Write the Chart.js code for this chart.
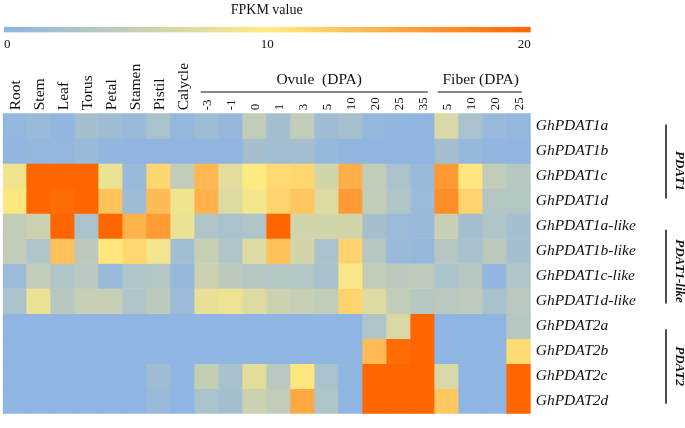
<!DOCTYPE html>
<html>
<head>
<meta charset="utf-8">
<script src="https://cdn.jsdelivr.net/npm/chart.js@4.4.0/dist/chart.umd.min.js"></script>
<style>
  html, body { margin: 0; padding: 0; background: #fff; }
  #wrap { position: relative; width: 685px; height: 428px; }
  #heat, #scaleBar { position: absolute; left: 0; top: 0; }
</style>
</head>
<body>
<div id="wrap">
  <canvas id="heat" width="685" height="428"></canvas>
  <canvas id="scaleBar" width="685" height="56"></canvas>
</div>
<script>
// column labels
const tissues = ["Root", "Stem", "Leaf", "Torus", "Petal", "Stamen", "Pistil", "Calycle"];
const ovuleDPA = ["-3", "-1", "0", "1", "3", "5", "10", "20", "25", "35"];
const fiberDPA = ["5", "10", "20", "25"];
const genes = ["GhPDAT1a", "GhPDAT1b", "GhPDAT1c", "GhPDAT1d",
  "GhPDAT1a-like", "GhPDAT1b-like", "GhPDAT1c-like", "GhPDAT1d-like",
  "GhPDAT2a", "GhPDAT2b", "GhPDAT2c", "GhPDAT2d"];
const groups = ["PDAT1", "PDAT1-like", "PDAT2"];
const scaleTicks = [0, 10, 20];

// FPKM values, one array per gene (tissues, ovule, fiber)
const pdat1a = [0.5, 1, 0.3, 2, 1.5, 1, 2.5, 0.5, 1.5, 0.8, 4.5, 2, 4.5, 1.5, 2.2, 0.5, 0.3, 0.2, 6.5, 2.5, 1, 0.5];
const pdat1b = [0.3, 0.5, 0.6, 1, 0.3, 0.2, 0.2, 0.2, 0.2, 0.2, 2, 1.8, 2, 0.7, 0.3, 0.2, 0.2, 0.2, 2, 0.7, 0.3, 0.2];
const pdat1c = [8.8, 20, 20, 20, 8.3, 1, 11.5, 4.5, 13.8, 7.5, 10, 11.3, 11.5, 6, 14.5, 4.5, 2.5, 1, 16.2, 10.3, 4.5, 3.5];
const pdat1d = [10.3, 20, 19.5, 20, 13, 1.5, 13.5, 8.8, 14.3, 7, 9, 11.7, 12.7, 7, 16, 4.5, 3, 1.2, 17, 11.7, 3.3, 3.3];
const pdat1aLike = [4.5, 5.5, 20, 2.5, 20, 14.3, 16, 8.3, 3, 2.5, 3, 20, 6, 6, 6, 2, 1.2, 1, 5, 2, 3, 2];
const pdat1bLike = [4.5, 3, 13.2, 4, 10.4, 11.5, 9, 1.8, 5, 3, 7, 13.2, 6, 2.5, 11.7, 3.5, 1, 0.8, 3.5, 2.3, 4, 2];
const pdat1cLike = [1.2, 4.5, 3, 3.8, 1, 3, 3.3, 0.8, 5.5, 4, 3.5, 3.3, 3.3, 2.3, 9.5, 4.5, 4, 4.2, 2.5, 3.5, 0.3, 3];
const pdat1dLike = [2.5, 8.3, 3.7, 5, 5, 3, 4, 1.2, 8, 8.5, 7, 5.5, 5, 4.5, 11.7, 7, 4.5, 3.5, 3.8, 4.2, 2.3, 3.8];
const pdat2a = [0.1, 0.1, 0.1, 0.1, 0.1, 0.1, 0.1, 0.1, 0.1, 0.1, 0.1, 0.1, 0.1, 0.1, 0.1, 3, 6.5, 20, 0.1, 0.1, 0.1, 3.5];
const pdat2b = [0.1, 0.1, 0.1, 0.1, 0.1, 0.1, 0.1, 0.1, 0.1, 0.1, 0.1, 0.1, 0.1, 0.1, 0.1, 13.5, 19.5, 20, 0.1, 0.1, 0.1, 11.3];
const pdat2c = [0.1, 0.1, 0.1, 0.1, 0.1, 0.1, 1.5, 0.1, 4.8, 2.3, 7.5, 3.8, 10.4, 2.5, 0.3, 20, 20, 20, 6.5, 0.1, 0.1, 20];
const pdat2d = [0.1, 0.1, 0.1, 0.1, 0.1, 0.1, 1, 0.1, 2.5, 2, 5.5, 4.5, 15, 3, 0.1, 20, 20, 20, 12.7, 0.1, 0.1, 20];

const rows = [pdat1a, pdat1b, pdat1c, pdat1d, pdat1aLike, pdat1bLike, pdat1cLike, pdat1dLike, pdat2a, pdat2b, pdat2c, pdat2d];
const columns = tissues.concat(ovuleDPA, fiberDPA);

const SERIF = "'Liberation Serif', 'Times New Roman', serif";

// 3 colour scale: blue - yellow - orange
const lowC = [142, 180, 227], midC = [255, 235, 132], highC = [255, 102, 0];
function colorFor(v) {
  v = Math.max(0, Math.min(20, v));
  let a = lowC, b = midC, t = v / 10;
  if (v > 10) { a = midC; b = highC; t = (v - 10) / 10; }
  return "rgb(" + a.map((c, i) => Math.round(c + (b[i] - c) * t)).join(",") + ")";
}

const extras = {
  id: "extras",
  afterDraw(chart) {
    const ctx = chart.ctx, x = chart.scales.x, y = chart.scales.y;
    const cw = x.getPixelForValue(1) - x.getPixelForValue(0);
    ctx.save();
    ctx.fillStyle = "#111";
    ctx.strokeStyle = "#111";

    // rotated column labels, reading upwards
    columns.forEach((lab, i) => {
      ctx.save();
      ctx.translate(x.getPixelForValue(i) + 1, chart.chartArea.top - 3);
      ctx.rotate(-Math.PI / 2);
      ctx.textAlign = "left";
      ctx.textBaseline = "middle";
      ctx.font = (i < tissues.length ? "15.5px " : "13px ") + SERIF;
      ctx.fillText(lab, 0, 0);
      ctx.restore();
    });

    ctx.lineWidth = 1.2;
    ctx.textAlign = "center";
    ctx.textBaseline = "middle";

    // column group headers
    ctx.font = "15.5px " + SERIF;
    let l = x.getPixelForValue(8) - cw / 2 + 6, r = x.getPixelForValue(17) + cw / 2 - 7;
    ctx.beginPath(); ctx.moveTo(l, 92); ctx.lineTo(r, 92); ctx.stroke();
    ctx.fillText("Ovule  (DPA)", (l + r) / 2 + 5, 80);
    l = x.getPixelForValue(18) - cw / 2 + 3; r = x.getPixelForValue(21) + cw / 2 - 9;
    ctx.beginPath(); ctx.moveTo(l, 92); ctx.lineTo(r, 92); ctx.stroke();
    ctx.fillText("Fiber (DPA)", (l + r) / 2 + 1, 80);

    // row group brackets on the right
    const spans = [[0.45, 3.4, 2.3], [4.65, 7.6, 6.3], [8.63, 11.6, 10.1]];
    ctx.font = "bold italic 13px " + SERIF;
    ctx.lineWidth = 1.5;
    spans.forEach((s, i) => {
      ctx.beginPath();
      ctx.moveTo(666, y.getPixelForValue(s[0]));
      ctx.lineTo(666, y.getPixelForValue(s[1]));
      ctx.stroke();
      ctx.save();
      ctx.translate(679, y.getPixelForValue(s[2]));
      ctx.rotate(Math.PI / 2);
      ctx.fillText(groups[i], 0, 0);
      ctx.restore();
    });
    ctx.restore();
  }
};

new Chart(document.getElementById("heat"), {
  type: "bar",
  data: {
    labels: columns,
    datasets: rows.map((vals, r) => ({
      label: genes[r],
      data: vals.map(() => [r, r + 1]),
      backgroundColor: vals.map(colorFor),
      borderWidth: 0,
      barPercentage: 1,
      categoryPercentage: 1,
      grouped: false
    }))
  },
  options: {
    responsive: false,
    animation: false,
    layout: { padding: { left: 2.7, right: 0, top: 0, bottom: 6.7 } },
    plugins: { legend: { display: false }, tooltip: { enabled: false } },
    scales: {
      x: {
        type: "category",
        position: "top",
        grid: { display: false, drawTicks: false },
        border: { display: false },
        ticks: { display: false },
        afterFit: s => { s.height = 113.3; }
      },
      y: {
        type: "linear",
        position: "right",
        reverse: true,
        min: 0,
        max: 12,
        grid: { display: false, drawTicks: false },
        border: { display: false },
        afterBuildTicks: s => { s.ticks = genes.map((g, i) => ({ value: i + 0.5 })); },
        ticks: {
          padding: 5,
          color: "#111",
          font: { family: SERIF, size: 15.5, style: "italic" },
          callback: v => genes[Math.floor(v)]
        },
        afterFit: s => { s.width = 154.3; }
      }
    }
  },
  plugins: [extras]
});

// colour key on top
new Chart(document.getElementById("scaleBar"), {
  type: "bar",
  data: {
    labels: ["FPKM"],
    datasets: [{
      data: [[scaleTicks[0], scaleTicks[scaleTicks.length - 1]]],
      backgroundColor: c => {
        const a = c.chart.chartArea;
        if (!a) return "#ccc";
        const g = c.chart.ctx.createLinearGradient(a.left, 0, a.right, 0);
        g.addColorStop(0, colorFor(0));
        g.addColorStop(0.5, colorFor(10));
        g.addColorStop(1, colorFor(20));
        return g;
      },
      borderWidth: 0,
      barPercentage: 1,
      categoryPercentage: 1
    }]
  },
  options: {
    indexAxis: "y",
    responsive: false,
    animation: false,
    layout: { padding: { left: 2.7, right: 154.3, top: 0, bottom: 0 } },
    plugins: {
      legend: { display: false },
      tooltip: { enabled: false },
      title: {
        display: true,
        text: "FPKM value",
        color: "#111",
        font: { family: SERIF, size: 14, weight: "normal" },
        padding: { top: 2, bottom: 8 }
      }
    },
    scales: {
      x: {
        type: "linear",
        min: 0,
        max: 20,
        grid: { display: false, drawTicks: false },
        border: { display: false },
        afterBuildTicks: s => { s.ticks = scaleTicks.map(v => ({ value: v })); },
        ticks: { align: "inner", padding: 4, color: "#111", font: { family: SERIF, size: 13 } }
      },
      y: { display: false }
    }
  }
});
</script>
</body>
</html>
